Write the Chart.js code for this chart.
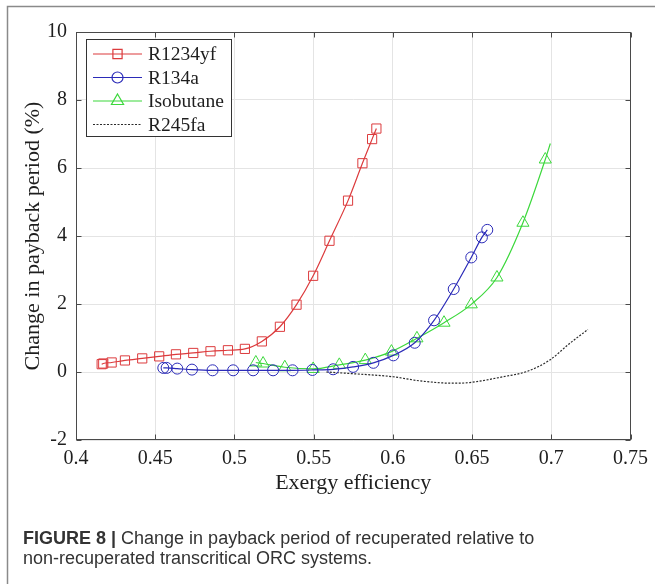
<!DOCTYPE html>
<html>
<head>
<meta charset="utf-8">
<script src="https://cdn.jsdelivr.net/npm/chart.js@4.4.1/dist/chart.umd.min.js"></script>
<style>
    html, body { margin: 0; padding: 0; background: #fff; }
    #wrap { width: 655px; height: 584px; position: relative; }
</style>
</head>
<body>
<div id="wrap"><canvas id="paybackChart" width="655" height="584"></canvas></div>
<script>
// --- Data ---
const seriesNames = ['R1234yf', 'R134a', 'Isobutane', 'R245fa'];

const r1234yfX = [0.4162, 0.4172, 0.4225, 0.4309, 0.4418, 0.4525, 0.4631, 0.4740, 0.4849, 0.4959,
                  0.5066, 0.5173, 0.5287, 0.5392, 0.5497, 0.5600, 0.5717, 0.5808, 0.5869, 0.5896];
const r1234yfY = [0.23, 0.25, 0.28, 0.34, 0.40, 0.46, 0.52, 0.56, 0.61, 0.64,
                  0.68, 0.90, 1.33, 1.98, 2.83, 3.86, 5.04, 6.14, 6.85, 7.16];

const r134aX = [0.4551, 0.4572, 0.4639, 0.4732, 0.4862, 0.4992, 0.5118, 0.5244, 0.5367, 0.5492,
                0.5623, 0.5749, 0.5877, 0.6003, 0.6138, 0.6260, 0.6384, 0.6495, 0.6562, 0.6596];
const r134aY = [0.12, 0.12, 0.10, 0.07, 0.05, 0.05, 0.05, 0.05, 0.05, 0.06,
                0.08, 0.15, 0.27, 0.49, 0.86, 1.52, 2.44, 3.37, 3.96, 4.18];

// last isobutane point is the end of the curve (no marker there)
const isobutaneX = [0.5135, 0.5181, 0.5318, 0.5497, 0.5662, 0.5826, 0.5991, 0.6152, 0.6323, 0.6495,
                    0.6657, 0.6821, 0.6962, 0.6994];
const isobutaneY = [0.28, 0.25, 0.14, 0.09, 0.21, 0.35, 0.60, 0.99, 1.45, 1.99,
                    2.78, 4.39, 6.25, 6.72];

const r245faX = [0.5580, 0.5749, 0.6001, 0.6169, 0.6379, 0.6485, 0.6695, 0.6842, 0.6990, 0.7116, 0.7231];
const r245faY = [0.00, -0.05, -0.14, -0.26, -0.33, -0.31, -0.14, 0.01, 0.35, 0.84, 1.25];

const xTickValues = [0.4, 0.45, 0.5, 0.55, 0.6, 0.65, 0.7, 0.75];
const yTickValues = [-2, 0, 2, 4, 6, 8, 10];

const xTitle = 'Exergy efficiency';
const yTitle = 'Change in payback period (%)';
const captionBold = 'FIGURE 8 |';
const captionLine1 = ' Change in payback period of recuperated relative to';
const captionLine2 = 'non-recuperated transcritical ORC systems.';

// --- Helpers ---
const toPoints = (xs, ys) => xs.map((v, i) => ({ x: v, y: ys[i] }));

const SERIF = '"Liberation Serif", "Times New Roman", serif';
const SANS = '"Liberation Sans", Arial, sans-serif';

const colors = {
    red: '#dc3b3d',
    blue: '#2b2bb8',
    green: '#3cd83c',
    black: '#2a2a2a',
    axis: '#4a4a4a',
    grid: '#e4e4e4'
};

function drawMarker(ctx, style, x, y, r) {
    ctx.beginPath();
    if (style === 'rect') {
        const s = r * Math.SQRT1_2;
        ctx.rect(x - s, y - s, 2 * s, 2 * s);
    } else if (style === 'circle') {
        ctx.arc(x, y, r, 0, Math.PI * 2);
    } else if (style === 'triangle') {
        ctx.moveTo(x, y - r);
        ctx.lineTo(x + r * 0.866, y + r * 0.5);
        ctx.lineTo(x - r * 0.866, y + r * 0.5);
        ctx.closePath();
    }
    ctx.stroke();
}

// --- Plugins: MATLAB-like box, inner ticks, legend, frame and caption ---
const figurePlugin = {
    id: 'figureDecor',
    afterDatasetsDraw(chart) {
        const { ctx, chartArea: a, scales: { x, y } } = chart;
        const L = Math.round(a.left) + 0.5, R = Math.round(a.right) - 0.5;
        const T = Math.round(a.top) + 0.5, B = Math.round(a.bottom) - 0.5;
        ctx.save();
        ctx.strokeStyle = colors.axis;
        ctx.lineWidth = 1;
        ctx.strokeRect(L, T, R - L, B - T);

        // inward tick marks on all four sides
        ctx.beginPath();
        xTickValues.forEach(v => {
            const px = Math.round(x.getPixelForValue(v)) + 0.5;
            ctx.moveTo(px, B); ctx.lineTo(px, B - 5);
            ctx.moveTo(px, T); ctx.lineTo(px, T + 5);
        });
        yTickValues.forEach(v => {
            const py = Math.round(y.getPixelForValue(v)) + 0.5;
            ctx.moveTo(L, py); ctx.lineTo(L + 5, py);
            ctx.moveTo(R, py); ctx.lineTo(R - 5, py);
        });
        ctx.stroke();

        // legend box, top-left inside the axes
        const box = { x: 86.5, y: 39.5, w: 145, h: 97 };
        ctx.fillStyle = '#fff';
        ctx.fillRect(box.x, box.y, box.w, box.h);
        ctx.strokeStyle = '#333';
        ctx.strokeRect(box.x, box.y, box.w, box.h);

        const rowY = [54, 77.5, 101, 124.5];
        chart.data.datasets.forEach((ds, i) => {
            const ry = rowY[i];
            ctx.strokeStyle = ds.borderColor;
            ctx.lineWidth = ds.borderWidth;
            ctx.setLineDash(ds.borderDash || []);
            ctx.beginPath();
            ctx.moveTo(93, ry); ctx.lineTo(142, ry);
            ctx.stroke();
            ctx.setLineDash([]);
            if (ds.pointStyle && ds.legendRadius) {
                drawMarker(ctx, ds.pointStyle, 117.5, ry, ds.legendRadius);
            }
            ctx.fillStyle = '#1e1e1e';
            ctx.font = '19.5px ' + SERIF;
            ctx.textAlign = 'left';
            ctx.textBaseline = 'middle';
            ctx.fillText(ds.label, 148, ry + 1);
        });
        ctx.restore();
    },
    afterDraw(chart) {
        const { ctx } = chart;
        ctx.save();
        // figure frame (top and left edges visible)
        ctx.strokeStyle = '#8a8a8a';
        ctx.lineWidth = 1.5;
        ctx.beginPath();
        ctx.moveTo(7.5, 584); ctx.lineTo(7.5, 6.5); ctx.lineTo(655, 6.5);
        ctx.stroke();

        // caption
        ctx.fillStyle = '#333';
        ctx.textAlign = 'left';
        ctx.textBaseline = 'alphabetic';
        ctx.font = 'bold 18px ' + SANS;
        ctx.fillText(captionBold, 23, 544);
        const bw = ctx.measureText(captionBold).width;
        ctx.font = '18px ' + SANS;
        ctx.fillText(captionLine1, 23 + bw, 544);
        ctx.fillText(captionLine2, 23, 564);
        ctx.restore();
    }
};

// --- Chart ---
const ctxPayback = document.getElementById('paybackChart').getContext('2d');

new Chart(ctxPayback, {
    type: 'scatter',
    data: {
        datasets: [
            {
                label: seriesNames[0],
                data: toPoints(r1234yfX, r1234yfY),
                showLine: true,
                borderColor: colors.red,
                backgroundColor: 'transparent',
                borderWidth: 1.2,
                pointStyle: 'rect',
                pointRadius: 6.5,
                legendRadius: 6.5,
                pointBorderWidth: 1,
                cubicInterpolationMode: 'monotone'
            },
            {
                label: seriesNames[1],
                data: toPoints(r134aX, r134aY),
                showLine: true,
                borderColor: colors.blue,
                backgroundColor: 'transparent',
                borderWidth: 1.2,
                pointStyle: 'circle',
                pointRadius: 5.5,
                legendRadius: 5.5,
                pointBorderWidth: 1,
                cubicInterpolationMode: 'monotone'
            },
            {
                label: seriesNames[2],
                data: toPoints(isobutaneX, isobutaneY),
                showLine: true,
                borderColor: colors.green,
                backgroundColor: 'transparent',
                borderWidth: 1.2,
                pointStyle: 'triangle',
                pointRadius: ctx => (ctx.dataIndex === isobutaneX.length - 1 ? 0 : 7),
                legendRadius: 7,
                pointBorderWidth: 1,
                cubicInterpolationMode: 'monotone'
            },
            {
                label: seriesNames[3],
                data: toPoints(r245faX, r245faY),
                showLine: true,
                borderColor: colors.black,
                backgroundColor: 'transparent',
                borderWidth: 1.2,
                borderDash: [2, 1.5],
                pointRadius: 0,
                cubicInterpolationMode: 'monotone'
            }
        ]
    },
    options: {
        responsive: false,
        animation: false,
        events: [],
        layout: { padding: { top: 32, right: 24, bottom: 84, left: 0 } },
        plugins: {
            legend: { display: false },
            tooltip: { enabled: false }
        },
        scales: {
            x: {
                type: 'linear',
                min: 0.4,
                max: 0.75,
                afterBuildTicks: s => { s.ticks = xTickValues.map(v => ({ value: v })); },
                afterFit: s => { s.height = 60; },
                ticks: {
                    color: '#1e1e1e',
                    font: { family: SERIF, size: 20 },
                    padding: 7,
                    maxRotation: 0,
                    callback: v => String(Math.round(v * 100) / 100)
                },
                grid: { color: colors.grid, drawTicks: false },
                border: { display: false },
                title: {
                    display: true,
                    text: xTitle,
                    color: '#1e1e1e',
                    font: { family: SERIF, size: 22 },
                    padding: { top: 0, bottom: 4 }
                }
            },
            y: {
                type: 'linear',
                min: -2,
                max: 10,
                afterBuildTicks: s => { s.ticks = yTickValues.map(v => ({ value: v })); },
                afterFit: s => { s.width = 76; },
                ticks: {
                    color: '#1e1e1e',
                    font: { family: SERIF, size: 20 },
                    padding: 9,
                    callback: v => String(v)
                },
                grid: { color: colors.grid, drawTicks: false },
                border: { display: false },
                title: {
                    display: true,
                    text: yTitle,
                    color: '#1e1e1e',
                    font: { family: SERIF, size: 22 },
                    padding: { top: 20, bottom: 0 }
                }
            }
        }
    },
    plugins: [figurePlugin]
});
</script>
</body>
</html>
